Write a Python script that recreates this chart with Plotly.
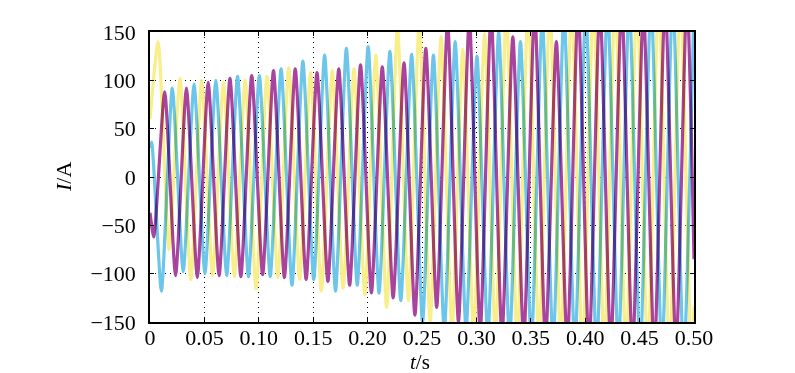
import plotly.graph_objects as go

# ---- data (extrema of each phase current) ----
t_yel = [0, 0.0075, 0.0175, 0.0275, 0.0375, 0.0475, 0.0575, 0.0675, 0.0775, 0.0875, 0.0975,
         0.1075, 0.1175, 0.1275, 0.1375, 0.1475, 0.1575, 0.1675, 0.1775, 0.1875, 0.1975,
         0.2075, 0.2175, 0.2275, 0.2375, 0.2475, 0.2575, 0.2675, 0.2775, 0.2875, 0.2975,
         0.3075, 0.3175, 0.3275, 0.3375, 0.3475, 0.3575, 0.3675, 0.3775, 0.3875, 0.3975,
         0.4075, 0.4175, 0.4275, 0.4375, 0.4475, 0.4575, 0.4675, 0.4775, 0.4875, 0.4975, 0.5]
i_yel = [60, 140, -75, 102, -106, 100, -102, 98, -103, 100, -116,
         104, -104, 113, -106, 108, -118, 110, -115, 112, -122,
         126, -135, 155, -128, 160, -150, 145, -158, 132, -162,
         148, -165, 170, -170, 175, -168, 178, -175, 180, -185,
         182, -178, 185, -182, 185, -185, 188, -188, 190, -190, -134]

t_mag = [0, 0.0035, 0.0135, 0.0235, 0.0335, 0.0435, 0.0535, 0.0635, 0.0735, 0.0835, 0.0935,
         0.1035, 0.1135, 0.1235, 0.1335, 0.1435, 0.1535, 0.1635, 0.1735, 0.1835, 0.1935,
         0.2035, 0.2135, 0.2235, 0.2335, 0.2435, 0.2535, 0.2635, 0.2735, 0.2835, 0.2935,
         0.3035, 0.3135, 0.3235, 0.3335, 0.3435, 0.3535, 0.3635, 0.3735, 0.3835, 0.3935,
         0.4035, 0.4135, 0.4235, 0.4335, 0.4435, 0.4535, 0.4635, 0.4735, 0.4835, 0.4935, 0.5]
i_mag = [-37, -62, 88, -102, 92, -104, 98, -102, 102, -103, 105,
         -101, 110, -104, 112, -106, 108, -108, 112, -112, 116,
         -120, 114, -125, 118, -143, 133, -135, 160, -150, 165,
         -160, 170, -165, 145, -170, 175, -172, 140, -175, 178,
         -180, 180, -178, 182, -182, 175, -185, 185, -180, 188, -85]

t_cya = [0, 0.0015, 0.0105, 0.0205, 0.0305, 0.0405, 0.0505, 0.0605, 0.0705, 0.0805, 0.0905,
         0.1005, 0.1105, 0.1205, 0.1305, 0.1405, 0.1505, 0.1605, 0.1705, 0.1805, 0.1905,
         0.2005, 0.2105, 0.2205, 0.2305, 0.2405, 0.2505, 0.2605, 0.2705, 0.2805, 0.2905,
         0.3005, 0.3105, 0.3205, 0.3305, 0.3405, 0.3505, 0.3605, 0.3705, 0.3805, 0.3905,
         0.4005, 0.4105, 0.4205, 0.4305, 0.4405, 0.4505, 0.4605, 0.4705, 0.4805, 0.4905, 0.5]
i_cya = [30, 36, -118, 92, -98, 96, -100, 100, -102, 104, -103,
         105, -103, 112, -112, 120, -106, 126, -118, 133, -112,
         135, -120, 130, -128, 127, -150, 126, -160, 140, -158,
         125, -165, 150, -170, 140, -172, 165, -175, 170, -178,
         175, -182, 180, -180, 182, -185, 185, -185, 188, -190, 180]

x_ticks = [0, 0.05, 0.10, 0.15, 0.20, 0.25, 0.30, 0.35, 0.40, 0.45, 0.50]
x_labels = ["0", "0.05", "0.10", "0.15", "0.20", "0.25", "0.30", "0.35", "0.40", "0.45", "0.50"]
y_ticks = [-150, -100, -50, 0, 50, 100, 150]

series = [
    (t_yel, i_yel, "#F8EE8A"),
    (t_mag, i_mag, "#A8449E"),
    (t_cya, i_cya, "#6CC6EA"),
]

fig = go.Figure()
for t, v, col in series:
    fig.add_trace(go.Scatter(
        x=t, y=v, mode="lines",
        line=dict(color=col, width=3.2, shape="spline", smoothing=0.6),
        hoverinfo="skip", showlegend=False,
    ))

font = dict(family="Liberation Serif", size=22, color="black")
axis_common = dict(
    showgrid=True, gridcolor="black", gridwidth=1, griddash="1px,4px",
    showline=True, linecolor="black", linewidth=1.5, mirror="ticks",
    ticks="inside", ticklen=4, tickcolor="black", tickwidth=1,
    zeroline=False, tickfont=font, automargin=False,
)

fig.update_layout(
    width=795, height=373,
    margin=dict(l=142, r=109, t=24, b=59),
    paper_bgcolor="white", plot_bgcolor="white",
    font=font,
    xaxis=dict(range=[0, 0.5], tickvals=x_ticks, ticktext=x_labels,
               ticklabelstandoff=-5, **axis_common),
    yaxis=dict(range=[-150, 150], tickvals=y_ticks,
               ticklabelstandoff=8, **axis_common),
    annotations=[
        dict(text="<i>t</i>/s", xref="paper", yref="paper", x=0.497, y=0,
             yshift=-40, yanchor="middle", xanchor="center", showarrow=False,
             font=dict(family="Liberation Serif", size=21, color="black")),
        dict(text="<i>I</i>/A", xref="paper", yref="paper", x=0, y=0.5,
             xshift=-87, xanchor="center", yanchor="middle", textangle=-90,
             showarrow=False, font=font),
    ],
)

post = ("document.querySelectorAll('.scatterlayer .trace .js-line').forEach("
        "function(p){p.style.mixBlendMode='multiply';});")
fig.write_html("out.html", post_script=post)
